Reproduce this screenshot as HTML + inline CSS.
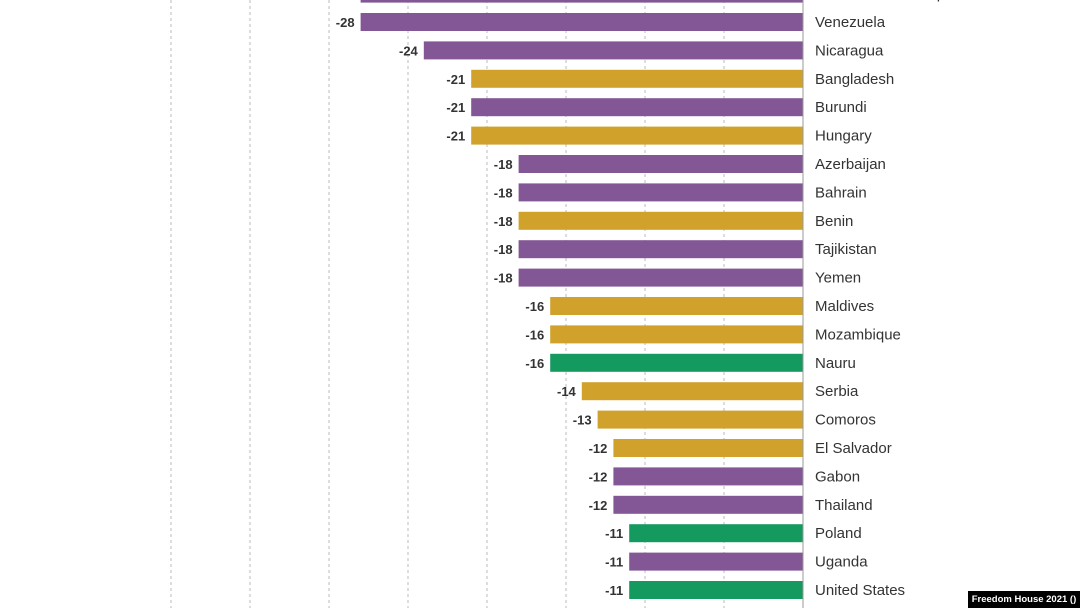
<!DOCTYPE html>
<html><head><meta charset="utf-8">
<style>
html,body{margin:0;padding:0;background:#fff;width:1080px;height:608px;overflow:hidden;font-family:"Liberation Sans",sans-serif}
#credit{position:absolute;left:968px;top:591px;width:112px;height:17px;background:#000;color:#fff;font:bold 9.5px "Liberation Sans",sans-serif;line-height:17px;text-align:center;white-space:nowrap}
</style></head><body>
<svg id="chart" width="1080" height="608" style="position:absolute;left:0;top:0"></svg>
<div id="credit">Freedom House 2021 ()</div>
<script>
const countries=["Central African Republic","Venezuela","Nicaragua","Bangladesh","Burundi","Hungary","Azerbaijan","Bahrain","Benin","Tajikistan","Yemen","Maldives","Mozambique","Nauru","Serbia","Comoros","El Salvador","Gabon","Thailand","Poland","Uganda","United States"];
const values=[-28,-28,-24,-21,-21,-21,-18,-18,-18,-18,-18,-16,-16,-16,-14,-13,-12,-12,-12,-11,-11,-11];
const status=["nf","nf","nf","pf","nf","pf","nf","nf","pf","nf","nf","pf","pf","f","pf","pf","pf","nf","nf","f","nf","f"];
const gridTicks=[-40,-35,-30,-25,-20,-15,-10,-5];
const colors={nf:"#835795",pf:"#d0a22c",f:"#14995f"};
const ns="http://www.w3.org/2000/svg";
const svg=document.getElementById("chart");
const x0=803, ppu=15.8, rowStep=28.4, firstY=-6.4, barH=18;
const xs=v=>x0+v*ppu;
const ys=i=>firstY+i*rowStep;
function mk(t,a){const e=document.createElementNS(ns,t);for(const k in a)e.setAttribute(k,a[k]);svg.appendChild(e);return e;}
gridTicks.forEach(t=>{
 const l=mk("line",{x1:xs(t),x2:xs(t),y1:0,y2:608,stroke:"#bbb","stroke-width":1,"stroke-dasharray":"3,3"});
 
 
});
countries.forEach((c,i)=>{
 const cy=ys(i),v=values[i];
 const r=mk("rect",{x:xs(v),y:cy-barH/2,width:x0-xs(v),height:barH,fill:colors[status[i]]});
 
 
 const vl=mk("text",{x:xs(v)-6,y:cy+5,"text-anchor":"end","font-size":13,"font-weight":"bold",fill:"#333"});
 vl.textContent=String(v);
 
 
 const cl=mk("text",{x:x0+12,y:cy+5,"font-size":15,fill:"#333"});
 cl.textContent=c;
 
 
});
const z=mk("line",{x1:x0,x2:x0,y1:0,y2:608,stroke:"#999","stroke-width":1});


</script>
</body></html>
